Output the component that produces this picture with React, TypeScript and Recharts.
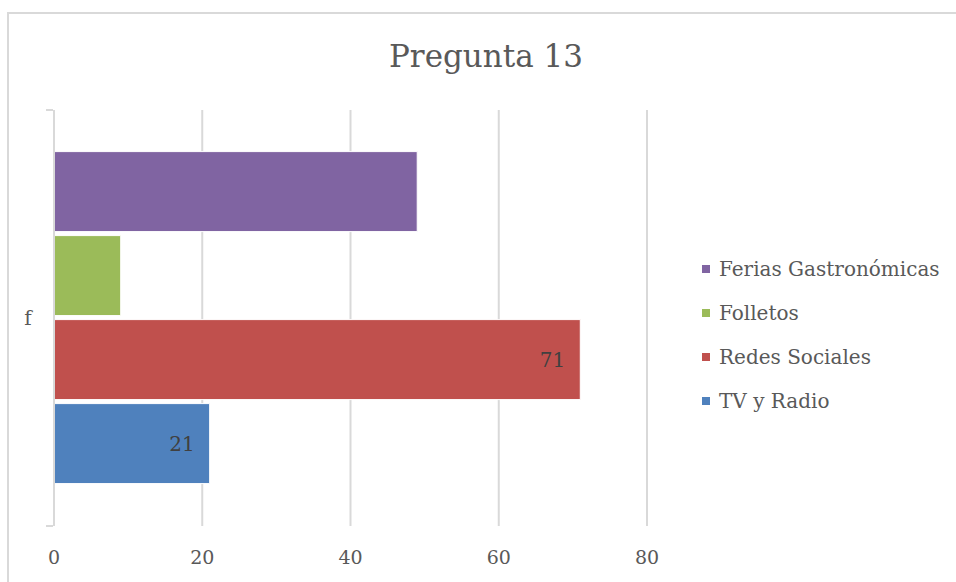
import { BarChart, Bar, XAxis, YAxis, CartesianGrid, Legend, LabelList } from 'recharts';

const categories = ['f'];
const seriesNames = ['Ferias Gastronómicas', 'Folletos', 'Redes Sociales', 'TV y Radio'];
const seriesKeys = ['ferias', 'folletos', 'redes', 'tv'];
const seriesValues = [49, 9, 71, 21];
const seriesColors = ['#8064A2', '#9BBB59', '#C0504D', '#4F81BD'];
const labelledKeys = ['redes', 'tv'];
const xTicks = [0, 20, 40, 60, 80];

const FONT = '"DejaVu Serif", serif';

const data = categories.map((name) => {
  const row: Record<string, string | number> = { name };
  seriesKeys.forEach((k, i) => {
    row[k] = seriesValues[i];
  });
  return row;
});

function CategoryTick(props: any) {
  const { x, y, payload } = props;
  const half = payload && payload.offset ? payload.offset : 208;
  return (
    <g>
      <line x1={x + 0} x2={x + 7} y1={y - half} y2={y - half} stroke="#d9d9d9" strokeWidth={2} />
      <line x1={x + 0} x2={x + 7} y1={y + half} y2={y + half} stroke="#d9d9d9" strokeWidth={2} />
      <text x={x - 18} y={y} dy="0.35em" textAnchor="middle" fill="#595959" fontSize={20} fontFamily={FONT}>
        {payload.value}
      </text>
    </g>
  );
}

function LegendContent() {
  return (
    <div style={{ fontFamily: FONT, fontSize: 20, color: '#595959' }}>
      {seriesNames.map((n, i) => (
        <div key={n} style={{ height: 44, display: 'flex', alignItems: 'center' }}>
          <span style={{ width: 8, height: 8, background: seriesColors[i], marginRight: 9, display: 'inline-block' }} />
          <span>{n}</span>
        </div>
      ))}
    </div>
  );
}

export default function App() {
  return (
    <div style={{ position: 'absolute', left: 0, top: 0, width: 956, height: 582, background: '#fff', overflow: 'hidden' }}>
      <div
        style={{
          position: 'absolute',
          left: 7,
          top: 12,
          width: 1000,
          height: 700,
          borderLeft: '2px solid #d9d9d9',
          borderTop: '2px solid #d9d9d9',
        }}
      />
      <div
        style={{
          position: 'absolute',
          left: 0,
          width: 972,
          top: 38,
          textAlign: 'center',
          fontFamily: FONT,
          fontSize: 31,
          color: '#595959',
        }}
      >
        Pregunta 13
      </div>
      <div style={{ position: 'absolute', left: 0, top: 0 }}>
        <BarChart
          width={956}
          height={582}
          data={data}
          layout="vertical"
          margin={{ top: 110, right: 57, bottom: 0, left: 8 }}
          barCategoryGap="10%"
          barGap={4}
        >
          <CartesianGrid horizontal={false} vertical={true} stroke="#d9d9d9" strokeWidth={2} />
          <XAxis
            type="number"
            domain={[0, 80]}
            ticks={xTicks}
            axisLine={false}
            tickLine={false}
            tickMargin={19}
            height={56}
            tick={{ fill: '#595959', fontSize: 19, fontFamily: FONT }}
          />
          <YAxis
            type="category"
            dataKey="name"
            width={46}
            axisLine={{ stroke: '#d9d9d9', strokeWidth: 2 }}
            tickLine={false}
            tick={<CategoryTick />}
          />
          <Legend
            layout="vertical"
            align="right"
            verticalAlign="top"
            width={252}
            wrapperStyle={{ left: 702, top: 247, right: 'auto' }}
            content={<LegendContent />}
          />
          {seriesKeys.map((k, i) => (
            <Bar key={k} dataKey={k} name={seriesNames[i]} fill={seriesColors[i]} stroke="#fff" strokeWidth={1} isAnimationActive={false}>
              {labelledKeys.includes(k) && (
                <LabelList dataKey={k} position="insideRight" offset={15} fill="#404040" fontSize={20} fontFamily={FONT} />
              )}
            </Bar>
          ))}
        </BarChart>
      </div>
    </div>
  );
}
